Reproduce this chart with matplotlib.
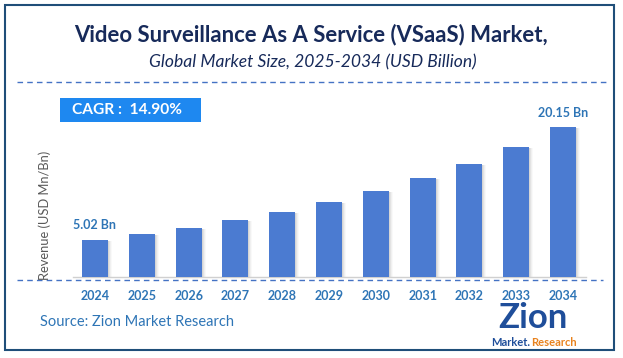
import matplotlib
matplotlib.use("Agg")
import matplotlib.pyplot as plt
from matplotlib.patches import Rectangle
import matplotlib.transforms as mtransforms

years = ["2024", "2025", "2026", "2027", "2028", "2029", "2030", "2031", "2032", "2033", "2034"]
values = [5.02, 5.77, 6.63, 7.62, 8.75, 10.06, 11.55, 13.27, 15.25, 17.52, 20.15]
label_first = "5.02 Bn"
label_last = "20.15 Bn"
cagr_text = "CAGR :  14.90%"

W, H = 623, 358
FONT = ["Lato", "DejaVu Sans"]
plt.rcParams['font.family'] = FONT

fig = plt.figure(figsize=(W / 100, H / 100), dpi=100)
fig.patch.set_facecolor("white")

def fx(px):
    return px / W

def fy(py):
    return 1 - py / H

# outer border
fig.add_artist(Rectangle((fx(5), fy(350)), fx(614) - fx(5), fy(5) - fy(350),
                         transform=fig.transFigure, fill=False, edgecolor="#1F4E79", linewidth=1.5))

# title
fig.text(fx(311), fy(35), "Video Surveillance As A Service (VSaaS) Market,", ha="center", va="center",
         fontsize=15.9, fontweight="bold", color="#172A5A")
fig.text(fx(313), fy(62), "Global Market Size, 2025-2034 (USD Billion)", ha="center", va="center",
         fontsize=12.6, style="italic", color="#172A5A")

# dashed lines
fig.add_artist(plt.Line2D([fx(17), fx(607)], [fy(82), fy(82)], transform=fig.transFigure,
                          color="#4472C4", linestyle=(0, (4, 3)), linewidth=1))
fig.add_artist(plt.Line2D([fx(17), fx(603)], [fy(280), fy(280)], transform=fig.transFigure,
                          color="#4472C4", linestyle=(0, (4, 3)), linewidth=1))

# axes
ax = fig.add_axes([fx(73), fy(277), fx(586) - fx(73), fy(100) - fy(277)])
ax.set_xlim(-0.47, 10.49)
ax.set_ylim(0, 23.8)
x = list(range(len(years)))
# shadows
for i, v in zip(x, values):
    for k, a in enumerate([0.14, 0.10, 0.07, 0.04]):
        tr = mtransforms.offset_copy(ax.transData, fig=fig, x=1 + k, y=-1, units="dots")
        ax.bar(i, v, width=0.556, color="#7f7f7f", alpha=a, transform=tr, zorder=1)
ax.bar(x, values, width=0.556, color="#4B7BD1", zorder=3)

for s in ["top", "right", "left"]:
    ax.spines[s].set_visible(False)
ax.spines["bottom"].set_color("#d0d0d0")
ax.spines["bottom"].set_linewidth(1)
ax.set_yticks([])
ax.set_xticks(x)
ax.set_xticklabels(years, fontsize=9, fontweight="bold", color="#2E75B6")
ax.tick_params(axis="x", length=0, pad=9)
ax.patch.set_alpha(0)

ax.annotate(label_first, (0, values[0]), xytext=(0, 6), textcoords="offset points",
            ha="center", va="bottom", fontsize=9, fontweight="bold", color="#2E75B6")
ax.annotate(label_last, (10, values[-1]), xytext=(0, 6), textcoords="offset points",
            ha="center", va="bottom", fontsize=9, fontweight="bold", color="#2E75B6")

# y label
fig.text(fx(45), fy(215), "Revenue (USD Mn/Bn)", rotation=90, ha="center", va="center",
         fontsize=9.3, color="#595959")

# CAGR box
fig.add_artist(Rectangle((fx(60), fy(122)), fx(201) - fx(60), fy(98) - fy(122),
                         transform=fig.transFigure, facecolor="#1E88F0", edgecolor="none"))
fig.text(fx(72), fy(110), cagr_text, ha="left", va="center", fontsize=11.2,
         fontweight="bold", color="white")

# source
fig.text(fx(40), fy(322), "Source: Zion Market Research", ha="left", va="center",
         fontsize=10.5, color="#2E75B6")

# logo approximation
fig.text(fx(533), fy(318), "Zion", ha="center", va="center", fontsize=25, fontweight="bold",
         color="#1F4E9A")
fig.text(fx(530), fy(343), "Market.", ha="right", va="center", fontsize=8, fontweight="bold",
         color="#1F4E9A")
fig.text(fx(531), fy(343), "Research", ha="left", va="center", fontsize=8, fontweight="bold",
         color="#E8821E")

fig.savefig("out.png", dpi=100, facecolor="white")
